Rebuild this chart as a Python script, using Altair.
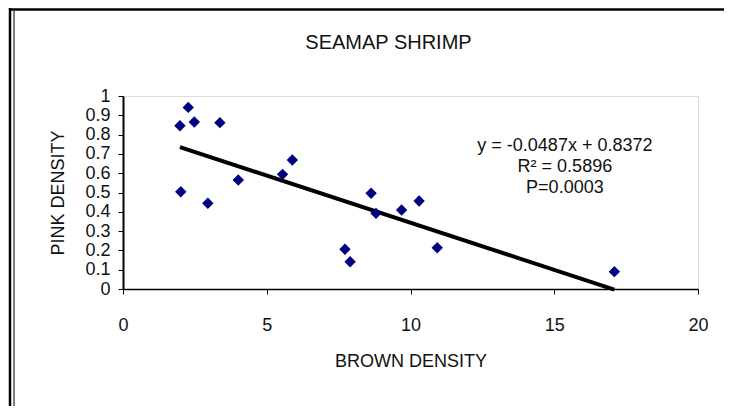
import altair as alt
import pandas as pd

# Data
brown = [2.27, 1.98, 2.48, 3.37, 2.01, 2.95, 4.01, 5.55, 5.89, 8.63, 8.80, 9.69, 10.30, 7.72, 7.90, 10.93, 17.09]
pink = [0.941, 0.846, 0.865, 0.862, 0.504, 0.444, 0.565, 0.594, 0.668, 0.496, 0.392, 0.409, 0.456, 0.206, 0.141, 0.214, 0.090]

y_ticks = [0, 0.1, 0.2, 0.3, 0.4, 0.5, 0.6, 0.7, 0.8, 0.9, 1]
x_ticks = [0, 5, 10, 15, 20]

ann_x = [15.37]
ann_y = [0.741]
ann_text = ["y = -0.0487x  + 0.8372\nR\u00b2 = 0.5896\nP=0.0003"]

FONT = "Liberation Sans, Arial, sans-serif"

df = pd.DataFrame({"brown": brown, "pink": pink})
ann = pd.DataFrame({"x": ann_x, "y": ann_y, "t": ann_text})

xscale = alt.Scale(domain=[0, 20], nice=False, zero=False)
yscale = alt.Scale(domain=[0, 1], nice=False, zero=False)

xaxis = alt.Axis(values=x_ticks, grid=False, tickSize=5, tickColor="black", domainColor="black",
                 domainWidth=1.5, labelPadding=22, labelFontSize=18, labelFont=FONT, labelColor="#111",
                 labelFlush=False, labelOverlap=False,
                 title="BROWN DENSITY", titleFont=FONT, titleFontSize=18, titleFontWeight="normal",
                 titleColor="#111", titlePadding=18)
yaxis = alt.Axis(values=y_ticks, tickCount=11, format=".1~f", grid=False, tickSize=5, tickColor="black",
                 domainColor="black", domainWidth=2, labelPadding=8, labelFontSize=18, labelFont=FONT,
                 labelColor="#111", labelOverlap=False, labelFlush=False,
                 title="PINK DENSITY", titleFont=FONT, titleFontSize=18,
                 titleFontWeight="normal", titleColor="#111", titlePadding=17)

base = alt.Chart(df)

trend = base.transform_regression("brown", "pink").mark_line(color="black", strokeWidth=4).encode(
    x=alt.X("brown:Q", scale=xscale, axis=xaxis),
    y=alt.Y("pink:Q", scale=yscale, axis=yaxis),
)

points = base.mark_point(shape="diamond", filled=True, size=130, color="#000080", opacity=1).encode(
    x=alt.X("brown:Q", scale=xscale, axis=xaxis),
    y=alt.Y("pink:Q", scale=yscale, axis=yaxis),
)

text = alt.Chart(ann).mark_text(lineBreak="\n", lineHeight=21, align="center", baseline="middle",
                                fontSize=18, font=FONT, color="#111").encode(
    x=alt.X("x:Q", scale=xscale, axis=xaxis),
    y=alt.Y("y:Q", scale=yscale, axis=yaxis),
    text="t:N",
)

# decorative figure border (Excel-style frame)
top_line = alt.Chart(ann).mark_rule(color="black", strokeWidth=2.5).encode(
    x=alt.value(-114), x2=alt.value(620), y=alt.value(-86.5))
left_line1 = alt.Chart(ann).mark_rule(color="black", strokeWidth=2.5).encode(
    x=alt.value(-113), y=alt.value(-88), y2=alt.value(330))
left_line2 = alt.Chart(ann).mark_rule(color="#555", strokeWidth=1.5).encode(
    x=alt.value(-109), y=alt.value(-85), y2=alt.value(330))

chart = alt.layer(trend, points, text, top_line, left_line1, left_line2).properties(
    width=575, height=193,
    autosize=alt.AutoSizeParams(type="none"),
    padding={"left": 115, "top": 88, "right": 26, "bottom": 117},
    title=alt.TitleParams("SEAMAP SHRIMP", font=FONT, fontSize=20, fontWeight="normal", color="#111",
                          anchor="middle", frame="group", baseline="alphabetic", offset=0, dy=62, dx=-22),
).configure_view(stroke="#808080", strokeWidth=1).configure(background="white")

chart.save("out.html", embed_options={"renderer": "svg", "actions": False})
